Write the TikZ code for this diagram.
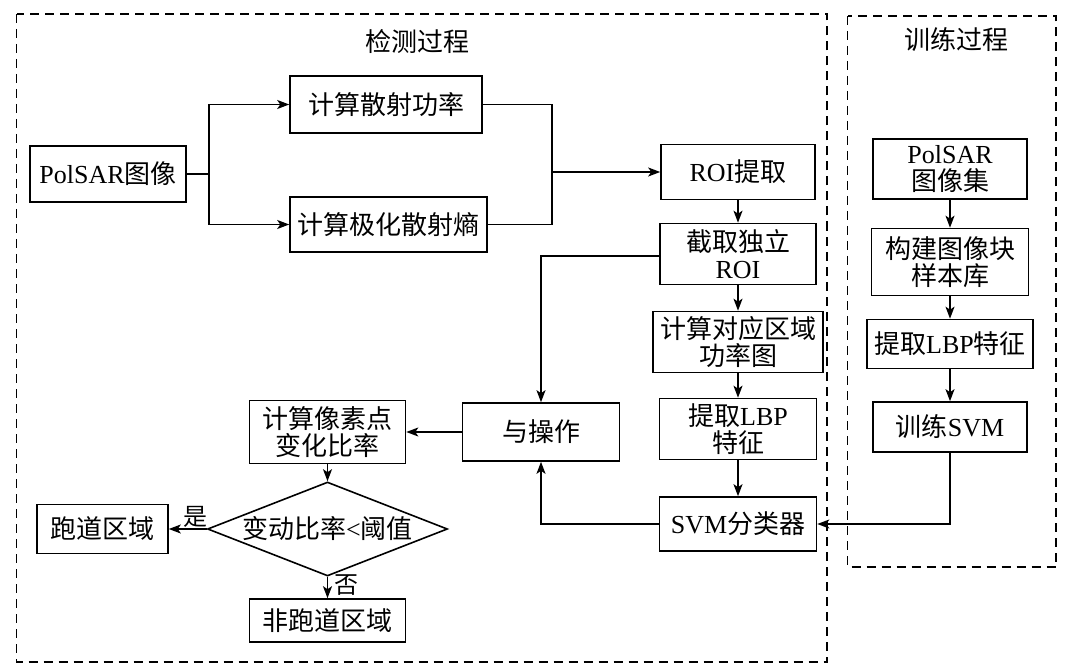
\documentclass[tikz,border=0pt]{standalone}
\usepackage{fontspec}
\setmainfont{Liberation Serif}
\newfontfamily\cjk{Noto Sans CJK SC}
\usetikzlibrary{shapes.geometric,arrows.meta,positioning}
\newcommand{\zh}[1]{{\cjk #1}}

\begin{document}
\begin{tikzpicture}[x=1pt, y=-1pt, on grid,
    font=\fontsize{26}{27}\selectfont,
    box/.style={draw, line width=1.6pt, align=center, inner sep=1pt},
    decision/.style={draw, diamond, line width=1.6pt, aspect=2.5, inner sep=0pt,
      minimum width=240pt, minimum height=94pt},
    groupbox/.style={draw, dash pattern=on 9pt off 6pt, line width=1.4pt},
    wire/.style={line width=1.5pt},
    flow/.style={wire, -{Stealth[length=12pt, width=9pt, inset=3pt]}},
    tag/.style={font=\fontsize{24}{26}\selectfont, inner sep=1pt}]
  \useasboundingbox (0,0) rectangle (1071,671);

  % dashed groups
  \draw[groupbox] (16.5,14) rectangle (827,662);
  \draw[groupbox] (847.5,16) rectangle (1056,567);
  \node (dettitle) at (417,42) {\zh{检测过程}};
  \node (traintitle) at (956,40) {\zh{训练过程}};

  % detection
  \node[box, minimum width=156pt, minimum height=56pt] (polsar) at (108,174) {PolSAR\zh{图像}};
  \node[box, minimum width=192pt, minimum height=57pt, above right=69.5pt and 278pt of polsar] (power) {\zh{计算散射功率}};
  \node[box, minimum width=197pt, minimum height=55pt, below right=50.5pt and 280.5pt of polsar] (entropy) {\zh{计算极化散射熵}};
  \node[box, minimum width=154pt, minimum height=55pt, above right=2pt and 630pt of polsar] (roi) {ROI\zh{提取}};
  \node[box, minimum width=156pt, minimum height=61pt, below=82pt of roi] (crop) {\zh{截取独立}\\ROI};
  \node[box, minimum width=170pt, minimum height=61pt, below=88pt of crop] (powmap) {\zh{计算对应区域}\\\zh{功率图}};
  \node[box, minimum width=157pt, minimum height=61pt, below=87pt of powmap] (lbp) {\zh{提取}LBP\\\zh{特征}};
  \node[box, minimum width=157pt, minimum height=54pt, below=95pt of lbp] (svm) {SVM\zh{分类器}};
  \node[box, minimum width=157pt, minimum height=58pt, below left=3pt and 197pt of lbp] (andop) {\zh{与操作}};
  \node[box, minimum width=156pt, minimum height=63pt, left=213.5pt of andop] (ratio) {\zh{计算像素点}\\\zh{变化比率}};
  \node[decision, below=97pt of ratio] (decide) {\zh{变动比率}<\zh{阈值}};
  \node[box, minimum width=131pt, minimum height=49pt, left=225pt of decide] (runway) {\zh{跑道区域}};
  \node[box, minimum width=156pt, minimum height=43pt, below=91.5pt of decide] (nonrunway) {\zh{非跑道区域}};

  % training
  \node[box, minimum width=154pt, minimum height=60pt, above right=3pt and 212pt of roi] (trainset) {PolSAR\\\zh{图像集}};
  \node[box, minimum width=157pt, minimum height=67pt, below=93pt of trainset] (patch) {\zh{构建图像块}\\\zh{样本库}};
  \node[box, minimum width=166pt, minimum height=49pt, below=82pt of patch] (tlbp) {\zh{提取}LBP\zh{特征}};
  \node[box, minimum width=154pt, minimum height=50pt, below=83pt of tlbp] (tsvm) {\zh{训练}SVM};

  \coordinate[right=101pt of polsar] (split);
  \coordinate[left=186pt of roi] (join);

  \draw[wire] (polsar.east) -- (split);
  \draw[flow] (split) |- (power.west);
  \draw[flow] (split) |- (entropy.west);
  \draw[wire] (power.east) -| (join) |- (entropy.east);
  \draw[flow] (join) -- (roi.west);
  \draw[flow] (roi.south) -- (crop.north);
  \draw[flow] (crop.south) -- (powmap.north);
  \draw[flow] (powmap.south) -- (lbp.north);
  \draw[flow] (lbp.south) -- (svm.north);
  \draw[flow] ([yshift=-2pt]crop.west) -| (andop.north);
  \draw[flow] (svm.west) -| (andop.south);
  \draw[flow] (andop.west) -- (ratio.east);
  \draw[flow] (ratio.south) -- (decide.north);
  \draw[flow] (decide.west) -- node[tag, pos=0.3, above] {\zh{是}} (runway.east);
  \draw[flow] (decide.south) -- node[tag, pos=0.4, right=5pt] {\zh{否}} (nonrunway.north);

  \draw[flow] (trainset.south) -- (patch.north);
  \draw[flow] (patch.south) -- (tlbp.north);
  \draw[flow] (tlbp.south) -- (tsvm.north);
  \draw[flow] (tsvm.south) |- (svm.east);
\end{tikzpicture}
\end{document}
